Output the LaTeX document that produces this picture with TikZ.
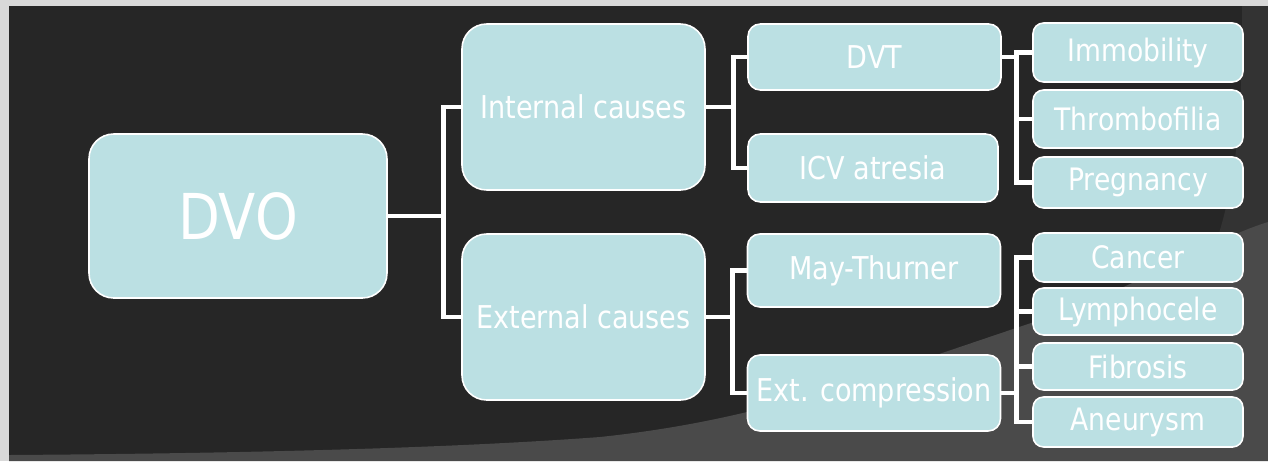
\documentclass[tikz,border=0pt]{standalone}
\usepackage{fontspec}
\setmainfont{DejaVu Sans}[FakeStretch=0.86]
\definecolor{framegray}{HTML}{D9D9D9}
\definecolor{slatedark}{HTML}{262626}
\definecolor{slatemid}{HTML}{333333}
\definecolor{slatelight}{HTML}{4A4A4A}
\definecolor{boxcyan}{HTML}{BBE0E3}
\begin{document}
\begin{tikzpicture}[x=0.02cm,y=-0.02cm,
    box/.style={draw=white,line width=0.9pt,fill=boxcyan,text=white,inner sep=0pt},
    rootbox/.style={box,rounded corners=14pt,minimum width=5.96cm,minimum height=3.28cm,
      font=\fontsize{36}{40}\selectfont},
    causebox/.style={box,rounded corners=14pt,minimum width=4.86cm,minimum height=3.32cm,
      font=\fontsize{17.9}{20}\selectfont},
    kindbox/.style={box,rounded corners=7pt,minimum width=5.06cm,
      font=\fontsize{17.9}{20}\selectfont},
    factorbox/.style={box,rounded corners=6pt,minimum width=4.2cm,
      font=\fontsize{17.6}{19}\selectfont},
    conn/.style={draw=white,line width=2.8pt,line join=miter}]
        \useasboundingbox (0,0) rectangle (1268,461);
        % slide background
        \fill[framegray] (0,0) rectangle (1268,461);
        \fill[slatedark] (9,6) rectangle (1268,461);
        \fill[slatemid] (1242,6) .. controls (1243,120) and (1236,190) .. (1210,260)
            -- (1268,260) -- (1268,6) -- cycle;
        \fill[slatelight] (9,455) .. controls (300,453) and (480,446) .. (600,437)
            .. controls (760,420) and (860,380) .. (1040,320)
            .. controls (1150,282) and (1210,240) .. (1268,222)
            -- (1268,461) -- (9,461) -- cycle;

        \node[rootbox] (dvo) at (238,216) {DVO};

        \node[causebox] (int) at (583.5,107) {Internal causes};
        \node[causebox] (ext) at (583.5,317) {External causes};

        \node[kindbox,minimum height=1.32cm] (dvt) at (874.5,57) {DVT};
        \node[kindbox,minimum height=1.36cm,minimum width=5cm] (icv) at (873,168) {ICV atresia};
        \node[kindbox,minimum height=1.46cm] (may) at (874,270.5) {May-Thurner};
        \node[kindbox,minimum height=1.52cm] (comp) at (874,393) {Ext. compression};

        \node[factorbox,minimum height=1.18cm] (imm) at (1138,52.5) {Immobility};
        \node[factorbox,minimum height=1.16cm] (thr) at (1138,119) {Thrombofilia};
        \node[factorbox,minimum height=1.02cm] (preg) at (1138,182.5) {Pregnancy};
        \node[factorbox,minimum height=0.98cm] (canc) at (1138,257.5) {Cancer};
        \node[factorbox,minimum height=0.94cm] (lymph) at (1138,311.5) {Lymphocele};
        \node[factorbox,minimum height=0.94cm] (fib) at (1138,366.5) {Fibrosis};
        \node[factorbox,minimum height=1cm] (aneu) at (1138,422) {Aneurysm};

        % connectors
        \draw[conn] (int.west) -- ++(-18,0) |- (dvo.east);
        \draw[conn] (ext.west) -- ++(-18,0) |- (dvo.east);

        \draw[conn] (dvt.west) -- ++(-14,0) |- (int.east);
        \draw[conn] (icv.west) -- ++(-14,0) |- (int.east);
        \draw[conn] (may.west) -- ++(-14,0) |- (ext.east);
        \draw[conn] (comp.west) -- ++(-14,0) |- (ext.east);

        \draw[conn] (imm.west) -- ++(-16,0) |- (dvt.east);
        \draw[conn] (thr.west) -- ++(-16,0) |- (dvt.east);
        \draw[conn] (preg.west) -- ++(-16,0) |- (dvt.east);
        \draw[conn] (canc.west) -- ++(-16,0) |- (comp.east);
        \draw[conn] (lymph.west) -- ++(-16,0) |- (comp.east);
        \draw[conn] (fib.west) -- ++(-16,0) |- (comp.east);
        \draw[conn] (aneu.west) -- ++(-16,0) |- (comp.east);
    \end{tikzpicture}
\end{document}
